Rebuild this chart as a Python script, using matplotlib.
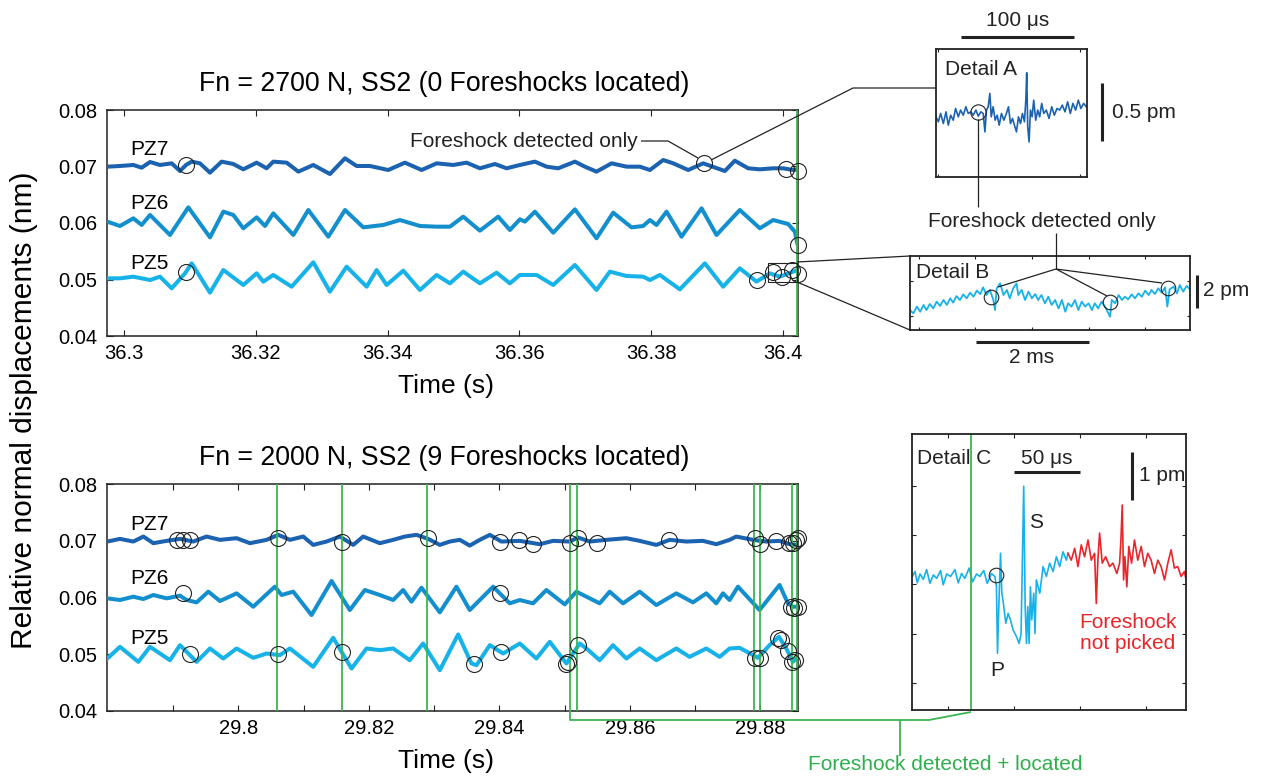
"""
foreshocks.py - waveform panels with detail insets.
Colours live in COLORS; all readings are kept in the lists below.
"""
import matplotlib
matplotlib.use("Agg")
import matplotlib.pyplot as plt
from matplotlib.patches import Rectangle
import numpy as np

plt.rcParams["font.family"] = ["Liberation Sans", "DejaVu Sans"]

COLORS = {
    "pz7":   "#1b63b0",
    "pz6":   "#148fce",
    "pz5":   "#17b2e8",
    "red":   "#e8262a",
    "green": "#3cb551",
    "gtext": "#2eae4c",
    "ink":   "#222222",
}

# ---- upper panel: Fn = 2700 N, time in ms after 36.3 s, displacement in nm
TOP_T0 = 36.3
top_pz7_ms = [-2.53, -0.61, 1.42, 2.68, 3.95, 5.46, 7.24, 8.50, 9.41, 10.27, 11.53, 13.05, 14.82, 16.59, 18.11,
              20.13, 21.65, 22.66, 24.69, 26.46, 28.73, 31.26, 33.54, 35.31, 37.33, 40.11, 42.64, 45.17, 47.45,
              49.97, 52.00, 54.02, 56.30, 58.07, 60.09, 62.37, 64.14, 65.91, 68.44, 69.95, 71.72, 74.00, 76.28,
              78.30, 79.82, 81.84, 83.36, 85.63, 87.91, 91.20, 92.71, 94.74, 96.51, 98.53, 100.05, 101.57, 102.2]
top_pz7_nm = [0.06997, 0.07009, 0.07027, 0.06979, 0.07080, 0.07027, 0.07056, 0.06920, 0.07027, 0.07086, 0.07056,
              0.06891, 0.07086, 0.07044, 0.06950, 0.07068, 0.06968, 0.07086, 0.07068, 0.06909, 0.07027, 0.06867,
              0.07145, 0.07009, 0.07009, 0.06938, 0.07068, 0.06938, 0.07056, 0.07027, 0.07068, 0.06968, 0.07044,
              0.06968, 0.07027, 0.07086, 0.06997, 0.06968, 0.07086, 0.06997, 0.06909, 0.07056, 0.06997, 0.06997,
              0.06938, 0.07115, 0.07056, 0.06938, 0.07056, 0.06920, 0.07103, 0.06968, 0.06950, 0.06968, 0.06968,
              0.06938, 0.06950]
top_pz6_ms = [-2.53, -0.61, 1.42, 2.68, 3.95, 6.98, 9.76, 13.05, 15.08, 16.59, 18.11, 20.13, 21.40, 22.66, 25.70,
              27.97, 31.01, 33.54, 36.32, 39.35, 41.88, 44.92, 47.45, 49.47, 51.49, 54.02, 56.80, 58.57, 60.09,
              60.85, 62.37, 65.15, 68.44, 71.72, 74.25, 77.03, 78.80, 79.82, 80.83, 82.35, 84.62, 87.66, 89.93,
              93.47, 96.51, 98.53, 100.81, 101.82, 102.2]
top_pz6_nm = [0.06024, 0.05947, 0.06083, 0.05965, 0.06142, 0.05788, 0.06277, 0.05746, 0.06201, 0.06142, 0.05906,
              0.06100, 0.05947, 0.06171, 0.05788, 0.06230, 0.05758, 0.06230, 0.05923, 0.05965, 0.06053, 0.05947,
              0.05935, 0.05935, 0.06112, 0.05864, 0.06112, 0.05876, 0.06065, 0.06024, 0.06201, 0.05829, 0.06242,
              0.05729, 0.06183, 0.05923, 0.05947, 0.06053, 0.05965, 0.06201, 0.05758, 0.06260, 0.05788, 0.06230,
              0.05906, 0.06053, 0.05982, 0.05847, 0.05640]
top_pz5_ms = [-2.53, -0.61, 1.42, 3.95, 5.46, 7.24, 9.26, 10.27, 13.05, 15.08, 18.11, 20.13, 21.15, 22.66, 25.44,
              28.73, 31.26, 33.79, 36.83, 38.34, 39.86, 42.39, 44.92, 47.45, 49.47, 51.49, 54.02, 56.55, 58.57,
              60.09, 62.62, 65.15, 68.44, 71.72, 73.75, 76.28, 78.80, 79.82, 81.33, 84.37, 88.16, 90.94, 93.47,
              96.00, 98.03, 99.54, 101.57, 102.2]
top_pz5_nm = [0.05021, 0.05021, 0.05050, 0.04991, 0.05050, 0.04844, 0.05109, 0.05286, 0.04767, 0.05168, 0.04903,
              0.05109, 0.04962, 0.05080, 0.04873, 0.05304, 0.04785, 0.05227, 0.04873, 0.05168, 0.04903, 0.05156,
              0.04814, 0.05080, 0.04932, 0.05139, 0.04932, 0.05121, 0.04932, 0.05080, 0.05080, 0.04903, 0.05257,
              0.04814, 0.05139, 0.05062, 0.05050, 0.04991, 0.05080, 0.04826, 0.05286, 0.04873, 0.05198, 0.04962,
              0.05109, 0.05050, 0.05139, 0.05168]
top_pick_ms = [9.36, 88.06, 100.41, 102.32, 102.32, 9.36, 96.01, 98.53, 99.80, 101.32, 102.32]
top_pick_nm = [0.07027, 0.07067, 0.06950, 0.06926, 0.05611, 0.05127, 0.04991, 0.05127, 0.05050, 0.05168, 0.05097]
top_located_ms = [102.2]
top_xticks = [36.30, 36.32, 36.34, 36.36, 36.38, 36.40]
top_xlabels = ["36.3", "36.32", "36.34", "36.36", "36.38", "36.4"]
detB_box_ms = [97.74, 102.10]
detB_box_nm = [0.0495, 0.0530]

# ---- lower panel: Fn = 2000 N, time in ms after 29.8 s
BOT_T0 = 29.8
bot_pz7_ms = [-20.09, -18.15, -16.11, -14.57, -13.04, -11.00, -8.96, -6.92, -4.88, -2.83, -0.28, 1.76, 4.31, 6.10,
              7.89, 9.93, 11.46, 13.50, 15.54, 17.59, 19.12, 21.67, 23.71, 25.50, 27.28, 29.07, 30.86, 32.39, 33.92,
              35.45, 36.99, 38.52, 40.30, 43.11, 46.17, 48.22, 50.77, 52.04, 53.83, 56.38, 59.45, 61.49, 64.04,
              66.08, 68.63, 71.19, 73.23, 75.27, 76.29, 78.84, 80.88, 82.93, 84.46, 85.74]
bot_pz7_nm = [0.06986, 0.07033, 0.06986, 0.07074, 0.06957, 0.06998, 0.07033, 0.06986, 0.07074, 0.07016, 0.07045,
              0.06957, 0.07016, 0.07104, 0.07016, 0.07074, 0.06927, 0.06986, 0.07074, 0.06927, 0.07074, 0.06957,
              0.07016, 0.07074, 0.07104, 0.07033, 0.06927, 0.06986, 0.07016, 0.06915, 0.07016, 0.07104, 0.06986,
              0.06998, 0.06939, 0.06998, 0.06986, 0.07057, 0.06986, 0.07016, 0.07045, 0.06998, 0.06927, 0.07016,
              0.06986, 0.06998, 0.06939, 0.07016, 0.07074, 0.07016, 0.06986, 0.06998, 0.06939, 0.06927]
bot_pz6_ms = [-20.09, -18.15, -16.11, -14.57, -13.04, -11.00, -8.96, -7.94, -6.41, -4.62, -2.83, -0.28, 2.27, 4.31,
              5.59, 6.61, 8.40, 11.20, 14.27, 17.07, 19.37, 21.67, 23.71, 25.24, 26.52, 28.05, 30.86, 33.41, 35.45,
              39.03, 40.30, 41.58, 43.11, 45.15, 47.19, 50.00, 51.79, 55.36, 56.89, 58.94, 61.49, 64.04, 67.10,
              69.66, 71.70, 73.23, 74.25, 75.27, 76.55, 79.86, 82.93, 84.20, 84.97, 85.74]
bot_pz6_nm = [0.05985, 0.05956, 0.06014, 0.05973, 0.06044, 0.05985, 0.06032, 0.05956, 0.05914, 0.06103, 0.05938,
              0.06073, 0.05838, 0.06056, 0.06191, 0.06044, 0.06103, 0.05691, 0.06291, 0.05779, 0.06132, 0.06044,
              0.05956, 0.06132, 0.05926, 0.06173, 0.05738, 0.06191, 0.05779, 0.06191, 0.06044, 0.05897, 0.05956,
              0.05897, 0.06132, 0.05879, 0.06103, 0.05897, 0.06103, 0.05897, 0.06103, 0.05867, 0.06073, 0.05914,
              0.06073, 0.05897, 0.06073, 0.05956, 0.06191, 0.05779, 0.06221, 0.05897, 0.05838, 0.05838]
bot_pz5_ms = [-20.09, -18.15, -15.34, -13.55, -10.49, -8.96, -6.41, -4.36, -2.32, -0.28, 2.27, 4.31, 6.35, 7.89,
              11.46, 14.52, 17.33, 19.63, 21.67, 23.71, 26.26, 28.30, 30.86, 33.67, 35.71, 36.48, 38.52, 40.56,
              43.11, 45.66, 47.71, 50.26, 52.30, 53.32, 55.36, 57.40, 59.45, 61.49, 64.04, 67.10, 69.14, 71.70,
              73.74, 75.27, 76.80, 79.61, 81.39, 82.83, 83.95, 84.97, 85.74]
bot_pz5_nm = [0.04925, 0.05131, 0.04866, 0.05131, 0.04895, 0.05160, 0.04866, 0.05102, 0.04925, 0.05102, 0.04937,
              0.05013, 0.04984, 0.05102, 0.04778, 0.05290, 0.04748, 0.05102, 0.05072, 0.05102, 0.04895, 0.05190,
              0.04719, 0.05349, 0.04837, 0.04807, 0.05160, 0.05013, 0.05190, 0.04925, 0.05219, 0.04837, 0.05190,
              0.05102, 0.04895, 0.05160, 0.04925, 0.05102, 0.04895, 0.05102, 0.04954, 0.05102, 0.04954, 0.05102,
              0.05113, 0.04937, 0.05160, 0.05308, 0.05102, 0.04866, 0.04954]
bot_pick_ms = [-9.37, -8.55, -7.43, 6.00, 15.90, 29.07, 40.15, 43.00, 45.15, 50.87, 52.04, 55.01, 65.97, 79.10,
               79.97, 82.42, 84.35, 84.96, 85.48, 85.73,
               -8.55, 40.15, 84.72, 85.07, 85.73,
               -7.43, 6.00, 15.90, 36.11, 40.20, 50.15, 50.51, 52.04, 79.10, 79.97, 82.66, 83.18, 84.20, 84.87, 85.22]
bot_pick_nm = [0.07016, 0.07016, 0.07016, 0.07046, 0.06986, 0.07057, 0.06986, 0.07016, 0.06940, 0.06968, 0.07046,
               0.06958, 0.07016, 0.07046, 0.06940, 0.06998, 0.06958, 0.06958, 0.07016, 0.07046,
               0.06074, 0.06074, 0.05837, 0.05820, 0.05837,
               0.05002, 0.04996, 0.05042, 0.04837, 0.05042, 0.04837, 0.04866, 0.05161, 0.04926, 0.04936, 0.05279,
               0.05249, 0.05055, 0.04866, 0.04896]
bot_located_ms = [5.90, 15.85, 28.94, 50.77, 51.91, 79.02, 79.86, 84.76, 85.60]
bot_xticks = [29.79, 29.80, 29.81, 29.82, 29.83, 29.84, 29.85, 29.86, 29.87, 29.88]
bot_xlabels = ["", "29.8", "", "29.82", "", "29.84", "", "29.86", "", "29.88"]

yticks = [0.04, 0.05, 0.06, 0.07, 0.08]
ylabels = ["0.04", "0.05", "0.06", "0.07", "0.08"]

# ---- Detail A (us, pm)
detA_us = [0, 2.1, 4.1, 6.5, 8.9, 10.9, 13.0, 15.3, 17.4, 19.8, 21.8, 24.2, 26.5, 28.6, 31.0, 33.0, 35.4, 37.5,
           39.8, 41.9, 43.4, 44.8, 46.3, 47.8, 49.0, 50.7, 52.5, 54.3, 56.1, 58.1, 60.2, 62.5, 64.3, 66.1, 67.9,
           69.6, 71.4, 73.2, 75.0, 76.7, 78.5, 79.7, 80.5, 81.4, 82.6, 83.8, 85.3, 86.7, 88.5, 90.3, 92.0, 93.8,
           95.6, 97.9, 100.3, 102.7, 105.0, 107.4, 109.7, 112.1, 114.5, 116.8, 119.2, 121.5, 123.9, 126.3, 128.6,
           131.0, 133.3]
detA_pm = [0, -0.043, 0.029, -0.058, 0.043, -0.072, 0.014, -0.029, 0.072, 0, 0.058, 0.014, 0.087, 0.029, 0.043,
           0.014, 0.058, 0.006, 0.043, 0.029, -0.130, 0.058, 0.087, 0.202, 0, 0.087, -0.029, 0.014, -0.072, 0.029,
           -0.029, 0.029, 0.087, -0.058, -0.014, -0.072, -0.130, 0, -0.058, 0.029, -0.043, 0.144, 0.381, -0.087,
           -0.217, 0.058, 0, 0.144, -0.029, 0.058, 0, 0.116, 0.029, 0.058, -0.014, 0.087, 0.014, 0.072, 0.058,
           0.101, 0.043, 0.130, 0.029, 0.116, 0.058, 0.144, 0.072, 0.116, 0.087]
detA_pick = (37.5, 0.043)

# ---- Detail B (ms, pm)
detB_ms = [0, 0.06, 0.12, 0.18, 0.24, 0.29, 0.35, 0.41, 0.47, 0.53, 0.59, 0.65, 0.71, 0.76, 0.82, 0.88, 0.94,
           1.00, 1.06, 1.12, 1.18, 1.24, 1.29, 1.35, 1.41, 1.47, 1.50, 1.53, 1.59, 1.65, 1.71, 1.76, 1.82, 1.88,
           1.91, 1.97, 2.03, 2.09, 2.15, 2.21, 2.26, 2.32, 2.38, 2.44, 2.50, 2.56, 2.62, 2.68, 2.74, 2.79, 2.85,
           2.91, 2.97, 3.03, 3.09, 3.15, 3.21, 3.26, 3.32, 3.38, 3.44, 3.53, 3.56, 3.62, 3.68, 3.74, 3.79, 3.85,
           3.91, 3.97, 4.03, 4.09, 4.15, 4.21, 4.26, 4.32, 4.38, 4.44, 4.50, 4.54, 4.58, 4.65, 4.71, 4.76, 4.82,
           4.88, 4.94]
detB_pm = [-0.61, -0.81, -0.40, -0.71, -0.30, -0.61, -0.24, -0.51, -0.10, -0.36, 0, -0.30, 0.10, -0.16, 0.24, 0,
           0.34, 0.10, 0.44, 0.20, 0.57, 0.36, 0.77, 0.30, 0.61, 0, -0.61, 0.71, 1.01, 0.30, 0.61, 0.10, 0.71, 1.01,
           0.30, 0.61, 0, 0.51, 0.10, 0.36, 0, 0.30, -0.20, 0.20, -0.30, 0, -0.51, 0, -0.71, -0.20, -0.40, 0,
           -0.61, -0.10, -0.40, -0.20, -0.61, -0.20, -0.51, -0.10, -0.40, -1.01, 0, -0.20, 0.30, 0, 0.20, 0.04,
           0.34, 0.10, 0.40, 0.20, 0.57, 0.30, 0.61, 0.36, 0.71, 0.44, 0.77, -0.40, 0.65, 0.81, 0.40, 0.91, 0.51,
           0.85, 0.65]
detB_pick_ms = [1.43, 3.53, 4.55]
detB_pick_pm = [0.20, -0.10, 0.71]

# ---- Detail C (us, pm)
detC_blue_us = [0.25, 2.3, 4.0, 6.1, 8.6, 11.1, 13.6, 16.2, 18.7, 21.7, 23.7, 26.3, 29.3, 32.6, 35.1, 37.6, 40.1,
                43.4, 46.0, 49.0, 51.5, 54.5, 57.1, 60.3, 62.9, 64.1, 64.9, 65.9, 67.2, 68.2, 69.2, 71.2, 73.0, 74.7,
                76.8, 79.3, 81.3, 82.8, 83.8, 84.8, 85.9, 86.9, 87.9, 88.9, 89.9, 90.9, 92.4, 93.4, 94.4, 97.0, 99.5,
                102.0, 104.5, 107.1, 109.6, 112.1, 114.6, 117.2, 118.4]
detC_blue_pm = [0.16, 0.26, 0.03, 0.21, 0.10, 0.30, 0.02, 0.19, 0.12, 0.28, -0.01, 0.21, 0.16, 0.30, 0.03, 0.22,
                0.12, 0.33, 0.05, 0.21, 0.16, 0.28, 0.02, 0.22, 0.16, -0.05, -1.40, -0.45, 0.63, -0.18, -0.35, -0.79,
                -0.59, -0.72, -0.93, -1.06, -1.20, -1.00, 0.49, 1.99, -0.45, -1.20, -0.45, -1.20, -0.05, -0.72,
                -0.18, -1.00, 0.09, -0.18, 0.36, 0.16, 0.43, 0.26, 0.56, 0.36, 0.66, 0.49, 0.63]
detC_red_us = [118.4, 120.9, 123.5, 126.0, 128.5, 131.0, 133.6, 136.1, 138.6, 139.9, 141.1, 142.4, 144.4, 147.0,
               150.0, 152.5, 155.5, 157.6, 158.6, 159.6, 160.6, 161.6, 163.1, 164.6, 166.7, 168.9, 171.4, 174.0,
               176.5, 179.0, 181.5, 184.1, 186.6, 189.1, 191.7, 194.2, 196.7, 199.2, 201.7, 204.3, 206.8, 208.1]
detC_red_pm = [0.63, 0.49, 0.73, 0.36, 0.80, 0.56, 0.90, 0.49, 0.63, -0.39, 0.49, 1.04, 0.43, 0.56, 0.36, 0.43,
               0.22, 0.43, 0.90, 1.61, 0.09, 0.56, -0.05, 0.77, 0.43, 0.90, 0.49, 0.77, 0.36, 0.63, 0.49, 0.22, 0.49,
               0.36, 0.09, 0.43, 0.70, 0.33, 0.36, 0.16, 0.26, 0.09]
detC_pick = (63.6, 0.19)
detC_located_us = 44.5

W, H = 1264, 778
fig = plt.figure(figsize=(W / 100, H / 100), dpi=100)


def _px(l, t, r, b):
    # axes rectangle from pixel edges of the reference
    return [l / W, 1 - b / H, (r - l) / W, (b - t) / H]


def _frame(ax, lw=1.1):
    for s in ax.spines.values():
        s.set_linewidth(lw); s.set_color(COLORS["ink"])
    ax.tick_params(direction="in", top=True, right=True, length=4, width=0.8, color=COLORS["ink"])


def _picks(ax, x, y, ms=11.5):
    ax.plot(x, y, "o", ms=ms, mfc="none", mec=COLORS["ink"], mew=0.8, zorder=6, clip_on=False)


def _main(rect, t0, lim_ms, traces, picks, located, xt, xl, title, labels_y):
    ax = fig.add_axes(rect)
    for ms, nm, key in traces:
        ax.plot(t0 + np.array(ms) / 1000, nm, color=COLORS[key], lw=2.9, solid_joinstyle="round", zorder=3)
    for t in located:
        ax.axvline(t0 + t / 1000, color=COLORS["green"], lw=1.3, zorder=4)
    _picks(ax, t0 + np.array(picks[0]) / 1000, picks[1])
    ax.set_xlim(t0 + lim_ms[0] / 1000, t0 + lim_ms[1] / 1000); ax.set_ylim(0.04, 0.08)
    ax.set_xticks(xt, xl); ax.set_yticks(yticks, ylabels)
    _frame(ax)
    ax.tick_params(labelsize=14.5)
    ax.tick_params(axis="x", pad=6); ax.tick_params(axis="y", pad=7)
    ax.text(0.488, 1.115, title, transform=ax.transAxes, ha="center", va="center", fontsize=19.2)
    ax.text(0.49, -0.22, "Time (s)", transform=ax.transAxes, ha="center", va="center", fontsize=19)
    for name, y in zip(["PZ7", "PZ6", "PZ5"], labels_y):
        ax.text(t0 + (lim_ms[0] + 3.5) / 1000, y, name, fontsize=15, va="center")
    return ax


top = _main(_px(107, 110, 798, 336), TOP_T0, (-2.58, 102.3),
            [(top_pz7_ms, top_pz7_nm, "pz7"), (top_pz6_ms, top_pz6_nm, "pz6"), (top_pz5_ms, top_pz5_nm, "pz5")],
            (top_pick_ms, top_pick_nm), top_located_ms, top_xticks, top_xlabels,
            "Fn = 2700 N, SS2 (0 Foreshocks located)", [0.0730, 0.0634, 0.0529])
top.add_patch(Rectangle((TOP_T0 + detB_box_ms[0] / 1000, detB_box_nm[0]),
                        (detB_box_ms[1] - detB_box_ms[0]) / 1000, detB_box_nm[1] - detB_box_nm[0],
                        fill=False, ec=COLORS["ink"], lw=0.8, zorder=6))

bot = _main(_px(107, 484, 798, 711), BOT_T0, (-20.14, 85.75),
            [(bot_pz7_ms, bot_pz7_nm, "pz7"), (bot_pz6_ms, bot_pz6_nm, "pz6"), (bot_pz5_ms, bot_pz5_nm, "pz5")],
            (bot_pick_ms, bot_pick_nm), bot_located_ms, bot_xticks, bot_xlabels,
            "Fn = 2000 N, SS2 (9 Foreshocks located)", [0.0729, 0.0633, 0.0528])

fig.text(24 / W, 1 - 410 / H, "Relative normal displacements (nm)", rotation=90,
         ha="center", va="center", fontsize=21.5)

# Detail A
axA = fig.add_axes(_px(936, 49, 1087, 177))
axA.plot(detA_us, detA_pm, color=COLORS["pz7"], lw=1.2)
_picks(axA, [detA_pick[0]], [detA_pick[1]], ms=11)
axA.set_xlim(0, 134); axA.set_ylim(-0.52, 0.586)
axA.set_xticks([1.5, 127.4]); axA.set_yticks([])
_frame(axA, 1.3); axA.tick_params(labelbottom=False, labelleft=False, length=2.5)

# Detail B
axB = fig.add_axes(_px(910, 256, 1190, 330))
axB.plot(detB_ms, detB_pm, color=COLORS["pz5"], lw=1.3)
_picks(axB, detB_pick_ms, detB_pick_pm, ms=10.5)
axB.set_xlim(0, 4.94); axB.set_ylim(-1.82, 2.67)
axB.set_xticks([0.15, 1.15, 2.15, 3.15, 4.15]); axB.set_yticks([-1.0, 1.15])
_frame(axB, 1.3); axB.tick_params(labelbottom=False, labelleft=False, length=2.5)

# Detail C
axC = fig.add_axes(_px(912, 434, 1186, 710))
axC.plot(detC_blue_us, detC_blue_pm, color=COLORS["pz5"], lw=1.2)
axC.plot(detC_red_us, detC_red_pm, color=COLORS["red"], lw=1.2)
axC.axvline(detC_located_us, color=COLORS["green"], lw=1.3)
_picks(axC, [detC_pick[0]], [detC_pick[1]], ms=10.5)
axC.set_xlim(0, 208); axC.set_ylim(-2.55, 3.05)
axC.set_xticks([27.3, 77.3, 127.3, 177.3]); axC.set_yticks([-2, -1, 0, 1, 2])
_frame(axC, 1.3); axC.tick_params(labelbottom=False, labelleft=False, length=3)

# overlay in reference pixels for leaders, scale bars and notes
ov = fig.add_axes([0, 0, 1, 1], zorder=10)
ov.set_xlim(0, W); ov.set_ylim(H, 0); ov.axis("off"); ov.patch.set_alpha(0)


def _line(pts, color=COLORS["ink"], lw=0.9):
    xs, ys = zip(*pts)
    ov.plot(xs, ys, color=color, lw=lw, solid_capstyle="butt")


def _txt(x, y, s, ha="center", color=COLORS["ink"], size=15, **kw):
    ov.text(x, y, s, ha=ha, va="center", color=color, fontsize=size, **kw)


_txt(638, 141, "Foreshock detected only", ha="right")
_line([(641, 141), (668, 141), (698, 158)])
_line([(711, 160), (853, 88), (936, 88)])
_line([(978, 119), (978, 207)])
_txt(1042, 221, "Foreshock detected only")
_line([(1056, 233), (1056, 269)])
for end in [(998, 287), (1107, 296), (1162, 283)]:
    _line([(1056, 269), end])
_line([(797, 262), (910, 256)])
_line([(797, 282), (910, 330)])

_txt(945, 69, "Detail A", ha="left")
_line([(961, 37), (1074, 37)], lw=2.2); _txt(1018, 20, "100 μs")
_line([(1102, 83), (1102, 141)], lw=2.2); _txt(1112, 112, "0.5 pm", ha="left")

_txt(916, 272, "Detail B", ha="left")
_line([(976, 342), (1089, 342)], lw=2.2); _txt(1032, 357, "2 ms")
_line([(1197, 275), (1197, 308)], lw=2.2); _txt(1203, 290, "2 pm", ha="left")

_txt(917, 458, "Detail C", ha="left")
_line([(1014, 472), (1080, 472)], lw=2.2); _txt(1047, 458, "50 μs")
_line([(1132, 452), (1132, 500)], lw=2.2); _txt(1139, 475, "1 pm", ha="left")
_txt(997, 670, "P"); _txt(1036, 523, "S")
_txt(1128, 633, "Foreshock\nnot picked", color=COLORS["red"], linespacing=1.1)

_line([(570, 711), (570, 720), (929, 720), (971, 712)], color=COLORS["green"], lw=1.3)
_line([(900, 720), (900, 756)], color=COLORS["green"], lw=1.3)
_txt(945, 765, "Foreshock detected + located", color=COLORS["gtext"])

fig.savefig("out.png", dpi=100)
plt.close(fig)
